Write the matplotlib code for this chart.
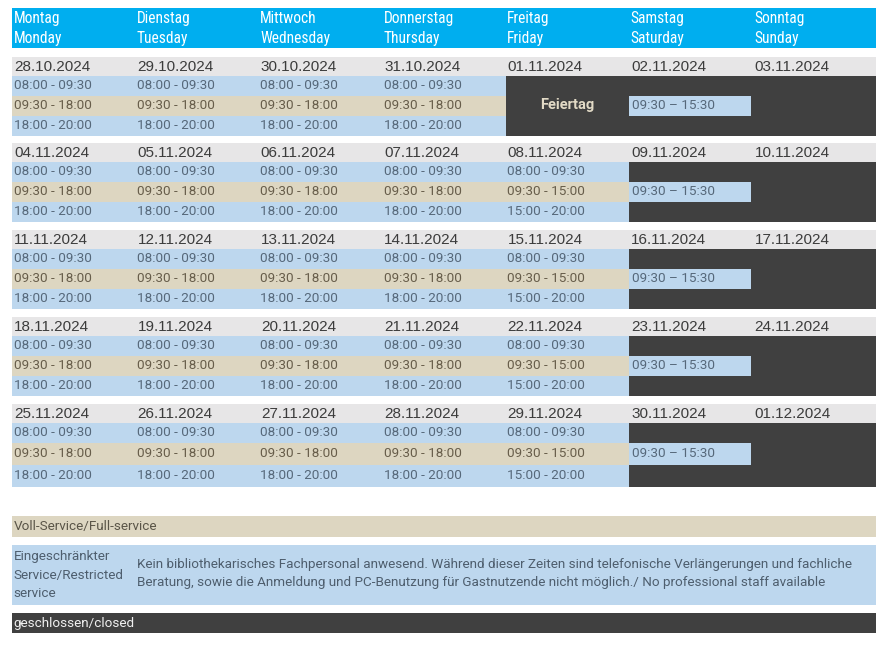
"""
Opening hours calendar (Oct/Nov 2024) drawn as a colour-coded table.
"""

import matplotlib
matplotlib.use("Agg")
import matplotlib.pyplot as plt
from matplotlib import font_manager as fm
from matplotlib.patches import Rectangle

# --- data -------------------------------------------------------------------
days_de = ["Montag", "Dienstag", "Mittwoch", "Donnerstag", "Freitag", "Samstag", "Sonntag"]
days_en = ["Monday", "Tuesday", "Wednesday", "Thursday", "Friday", "Saturday", "Sunday"]

dates = [
    ["28.10.2024", "29.10.2024", "30.10.2024", "31.10.2024", "01.11.2024", "02.11.2024", "03.11.2024"],
    ["04.11.2024", "05.11.2024", "06.11.2024", "07.11.2024", "08.11.2024", "09.11.2024", "10.11.2024"],
    ["11.11.2024", "12.11.2024", "13.11.2024", "14.11.2024", "15.11.2024", "16.11.2024", "17.11.2024"],
    ["18.11.2024", "19.11.2024", "20.11.2024", "21.11.2024", "22.11.2024", "23.11.2024", "24.11.2024"],
    ["25.11.2024", "26.11.2024", "27.11.2024", "28.11.2024", "29.11.2024", "30.11.2024", "01.12.2024"],
]

weekday_slots = ["08:00 - 09:30", "09:30 - 18:00", "18:00 - 20:00"]
friday_slots = ["08:00 - 09:30", "09:30 - 15:00", "15:00 - 20:00"]
saturday_slot = "09:30 \u2013 15:30"
slot_kind = ["restricted", "full", "restricted"]
holidays = {(0, 4): "Feiertag"}  # (week, day) -> label

legend_full = "Voll-Service/Full-service"
legend_restricted = "Eingeschränkter\nService/Restricted\nservice"
legend_restricted_note = (
    "Kein bibliothekarisches Fachpersonal anwesend. Während dieser Zeiten sind telefonische "
    "Verlängerungen und fachliche\nBeratung, sowie die Anmeldung und PC-Benutzung für "
    "Gastnutzende nicht möglich./ No professional staff available"
)
legend_closed = "geschlossen/closed"

# --- style ------------------------------------------------------------------
HEADER_BLUE = "#00AEEF"
DATE_GRAY = "#E7E6E7"
BLUE = "#BDD7EE"
BEIGE = "#DDD6C1"
DARK = "#404040"
FILL = {"restricted": BLUE, "full": BEIGE}
TEXT = {"restricted": "#56687A", "full": "#675D4A"}

names = {f.name for f in fm.fontManager.ttflist}
cond_font = next((n for n in ["Roboto Condensed", "Liberation Sans Narrow"] if n in names), None)
if cond_font:
    head_kw = dict(family=cond_font, fontsize=11.2)
else:
    head_kw = dict(family="Roboto", fontstretch="condensed", fontsize=9.6)

time_kw = dict(family="Roboto", fontsize=9.7, va="center")

X0, COL_W, N_COLS = 12, 123.4, 7
X1 = X0 + COL_W * N_COLS
week_tops = [57, 143, 230, 317, 404]
date_h = 18.5
slot_heights = [[20, 20, 20]] * 4 + [[20, 22, 22]]

fig = plt.figure(figsize=(8.8, 6.46), dpi=100)
ax = fig.add_axes([0, 0, 1, 1])
ax.set_xlim(0, 880)
ax.set_ylim(646, 0)
ax.axis("off")


def cell(x, y, w, h, color):
    ax.add_patch(Rectangle((x, y), w, h, facecolor=color, edgecolor="none"))


# header
cell(X0, 8, X1 - X0, 40, HEADER_BLUE)
for i, (de, en) in enumerate(zip(days_de, days_en)):
    x = X0 + i * COL_W + 1.5
    ax.text(x, 18.5, de, color="white", va="center", **head_kw)
    ax.text(x, 38.5, en, color="white", va="center", **head_kw)

# weeks
for w, top in enumerate(week_tops):
    cell(X0, top, X1 - X0, date_h, DATE_GRAY)
    for d in range(N_COLS):
        ax.text(X0 + d * COL_W + 2, top + date_h / 2 + 0.5, dates[w][d], color="#3C3C3C",
                family="Liberation Sans", fontsize=11, va="center")

    y = top + date_h
    for s, h in enumerate(slot_heights[w]):
        kind = slot_kind[s]
        for d in range(N_COLS):
            x = X0 + d * COL_W
            if d == 6 or (w, d) in holidays:
                cell(x, y, COL_W, h, DARK)
                continue
            if d == 5:
                if s == 1:
                    cell(x, y, COL_W - 1, h, BLUE)
                    cell(x + COL_W - 1, y, 1, h, DARK)
                    ax.text(x + 3, y + h / 2, saturday_slot, color=TEXT["restricted"], **time_kw)
                else:
                    cell(x, y, COL_W, h, DARK)
                continue
            cell(x, y, COL_W, h, FILL[kind])
            label = friday_slots[s] if d == 4 else weekday_slots[s]
            ax.text(x + 1.5, y + h / 2, label, color=TEXT[kind], **time_kw)
        y += h

    for (hw, hd), label in holidays.items():
        if hw == w:
            yc = top + date_h + sum(slot_heights[w]) / 2
            ax.text(X0 + hd * COL_W + COL_W / 2, yc, label, color="#E2DAC6",
                    family="Roboto", fontweight="bold", fontsize=10.5,
                    ha="center", va="center")

# legend
leg_kw = dict(family="Roboto", fontsize=9.7, va="center")
cell(X0, 516, X1 - X0, 21, BEIGE)
ax.text(X0 + 1.5, 526.5, legend_full, color="#5A5548", **leg_kw)

cell(X0, 545, X1 - X0, 60, BLUE)
ax.text(X0 + 1.5, 575, legend_restricted, color="#4E5E6E", linespacing=1.55, **leg_kw)
ax.text(137, 573.5, legend_restricted_note, color="#4E5E6E", linespacing=1.5, **leg_kw)

cell(X0, 613, X1 - X0, 20, DARK)
ax.text(X0 + 1.5, 623, legend_closed, color="#F0F0F0", **leg_kw)

fig.savefig("out.png", dpi=100)
